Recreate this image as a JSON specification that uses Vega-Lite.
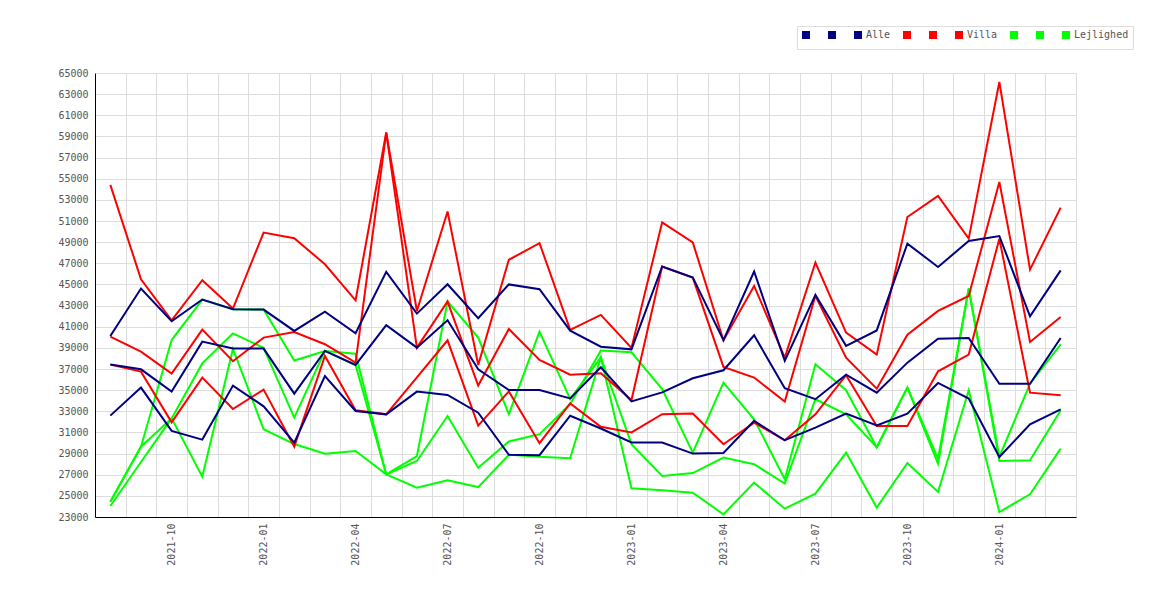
{
  "$schema": "https://vega.github.io/schema/vega-lite/v6.json",
  "width": 981,
  "height": 444,
  "autosize": {"type": "none"},
  "padding": {"left": 95, "top": 73, "right": 94, "bottom": 83},
  "background": "white",
  "data": {
    "values": [
      {"s": "Lejlighed 1", "m": "2021-08", "v": 24440}, {"s": "Lejlighed 1", "m": "2021-09", "v": 29650}, {"s": "Lejlighed 1", "m": "2021-10", "v": 39740}, {"s": "Lejlighed 1", "m": "2021-11", "v": 43570},
      {"s": "Lejlighed 1", "m": "2021-12", "v": 42650}, {"s": "Lejlighed 1", "m": "2022-01", "v": 42620}, {"s": "Lejlighed 1", "m": "2022-02", "v": 37800}, {"s": "Lejlighed 1", "m": "2022-03", "v": 38710},
      {"s": "Lejlighed 1", "m": "2022-04", "v": 38450}, {"s": "Lejlighed 1", "m": "2022-05", "v": 27030}, {"s": "Lejlighed 1", "m": "2022-06", "v": 28770}, {"s": "Lejlighed 1", "m": "2022-07", "v": 43380},
      {"s": "Lejlighed 1", "m": "2022-08", "v": 39970}, {"s": "Lejlighed 1", "m": "2022-09", "v": 32730}, {"s": "Lejlighed 1", "m": "2022-10", "v": 40540}, {"s": "Lejlighed 1", "m": "2022-11", "v": 34150},
      {"s": "Lejlighed 1", "m": "2022-12", "v": 38100}, {"s": "Lejlighed 1", "m": "2023-01", "v": 29890}, {"s": "Lejlighed 1", "m": "2023-02", "v": 26890}, {"s": "Lejlighed 1", "m": "2023-03", "v": 27160},
      {"s": "Lejlighed 1", "m": "2023-04", "v": 28620}, {"s": "Lejlighed 1", "m": "2023-05", "v": 27990}, {"s": "Lejlighed 1", "m": "2023-06", "v": 26160}, {"s": "Lejlighed 1", "m": "2023-07", "v": 34140},
      {"s": "Lejlighed 1", "m": "2023-08", "v": 32720}, {"s": "Lejlighed 1", "m": "2023-09", "v": 29600}, {"s": "Lejlighed 1", "m": "2023-10", "v": 35240}, {"s": "Lejlighed 1", "m": "2023-11", "v": 28520},
      {"s": "Lejlighed 1", "m": "2023-12", "v": 44610}, {"s": "Lejlighed 1", "m": "2024-01", "v": 28680}, {"s": "Lejlighed 1", "m": "2024-02", "v": 35610}, {"s": "Lejlighed 1", "m": "2024-03", "v": 39340},

      {"s": "Lejlighed 2", "m": "2021-08", "v": 24040}, {"s": "Lejlighed 2", "m": "2021-09", "v": 28200}, {"s": "Lejlighed 2", "m": "2021-10", "v": 32330}, {"s": "Lejlighed 2", "m": "2021-11", "v": 37530},
      {"s": "Lejlighed 2", "m": "2021-12", "v": 40370}, {"s": "Lejlighed 2", "m": "2022-01", "v": 39000}, {"s": "Lejlighed 2", "m": "2022-02", "v": 32400}, {"s": "Lejlighed 2", "m": "2022-03", "v": 38710},
      {"s": "Lejlighed 2", "m": "2022-04", "v": 37380}, {"s": "Lejlighed 2", "m": "2022-05", "v": 27030}, {"s": "Lejlighed 2", "m": "2022-06", "v": 28300}, {"s": "Lejlighed 2", "m": "2022-07", "v": 32550},
      {"s": "Lejlighed 2", "m": "2022-08", "v": 27660}, {"s": "Lejlighed 2", "m": "2022-09", "v": 30140}, {"s": "Lejlighed 2", "m": "2022-10", "v": 30840}, {"s": "Lejlighed 2", "m": "2022-11", "v": 33680},
      {"s": "Lejlighed 2", "m": "2022-12", "v": 38740}, {"s": "Lejlighed 2", "m": "2023-01", "v": 38580}, {"s": "Lejlighed 2", "m": "2023-02", "v": 35100}, {"s": "Lejlighed 2", "m": "2023-03", "v": 29090},
      {"s": "Lejlighed 2", "m": "2023-04", "v": 35710}, {"s": "Lejlighed 2", "m": "2023-05", "v": 32240}, {"s": "Lejlighed 2", "m": "2023-06", "v": 26570}, {"s": "Lejlighed 2", "m": "2023-07", "v": 37450},
      {"s": "Lejlighed 2", "m": "2023-08", "v": 34990}, {"s": "Lejlighed 2", "m": "2023-09", "v": 29600}, {"s": "Lejlighed 2", "m": "2023-10", "v": 35240}, {"s": "Lejlighed 2", "m": "2023-11", "v": 28050},
      {"s": "Lejlighed 2", "m": "2023-12", "v": 44610}, {"s": "Lejlighed 2", "m": "2024-01", "v": 28300}, {"s": "Lejlighed 2", "m": "2024-02", "v": 28360}, {"s": "Lejlighed 2", "m": "2024-03", "v": 33100},

      {"s": "Lejlighed", "m": "2021-08", "v": 24440}, {"s": "Lejlighed", "m": "2021-09", "v": 29650}, {"s": "Lejlighed", "m": "2021-10", "v": 32330}, {"s": "Lejlighed", "m": "2021-11", "v": 26810},
      {"s": "Lejlighed", "m": "2021-12", "v": 38900}, {"s": "Lejlighed", "m": "2022-01", "v": 31300}, {"s": "Lejlighed", "m": "2022-02", "v": 29900}, {"s": "Lejlighed", "m": "2022-03", "v": 28990},
      {"s": "Lejlighed", "m": "2022-04", "v": 29240}, {"s": "Lejlighed", "m": "2022-05", "v": 27030}, {"s": "Lejlighed", "m": "2022-06", "v": 25770}, {"s": "Lejlighed", "m": "2022-07", "v": 26470},
      {"s": "Lejlighed", "m": "2022-08", "v": 25830}, {"s": "Lejlighed", "m": "2022-09", "v": 28880}, {"s": "Lejlighed", "m": "2022-10", "v": 28690}, {"s": "Lejlighed", "m": "2022-11", "v": 28560},
      {"s": "Lejlighed", "m": "2022-12", "v": 38100}, {"s": "Lejlighed", "m": "2023-01", "v": 25720}, {"s": "Lejlighed", "m": "2023-02", "v": 25530}, {"s": "Lejlighed", "m": "2023-03", "v": 25300},
      {"s": "Lejlighed", "m": "2023-04", "v": 23250}, {"s": "Lejlighed", "m": "2023-05", "v": 26250}, {"s": "Lejlighed", "m": "2023-06", "v": 23790}, {"s": "Lejlighed", "m": "2023-07", "v": 25210},
      {"s": "Lejlighed", "m": "2023-08", "v": 29090}, {"s": "Lejlighed", "m": "2023-09", "v": 23900}, {"s": "Lejlighed", "m": "2023-10", "v": 28110}, {"s": "Lejlighed", "m": "2023-11", "v": 25370},
      {"s": "Lejlighed", "m": "2023-12", "v": 34990}, {"s": "Lejlighed", "m": "2024-01", "v": 23470}, {"s": "Lejlighed", "m": "2024-02", "v": 25150}, {"s": "Lejlighed", "m": "2024-03", "v": 29470},

      {"s": "Villa 1", "m": "2021-08", "v": 54420}, {"s": "Villa 1", "m": "2021-09", "v": 45490}, {"s": "Villa 1", "m": "2021-10", "v": 41610}, {"s": "Villa 1", "m": "2021-11", "v": 45400},
      {"s": "Villa 1", "m": "2021-12", "v": 42715}, {"s": "Villa 1", "m": "2022-01", "v": 49910}, {"s": "Villa 1", "m": "2022-02", "v": 49370}, {"s": "Villa 1", "m": "2022-03", "v": 46910},
      {"s": "Villa 1", "m": "2022-04", "v": 43500}, {"s": "Villa 1", "m": "2022-05", "v": 59370}, {"s": "Villa 1", "m": "2022-06", "v": 42490}, {"s": "Villa 1", "m": "2022-07", "v": 51900},
      {"s": "Villa 1", "m": "2022-08", "v": 37380}, {"s": "Villa 1", "m": "2022-09", "v": 47330}, {"s": "Villa 1", "m": "2022-10", "v": 48910}, {"s": "Villa 1", "m": "2022-11", "v": 40700},
      {"s": "Villa 1", "m": "2022-12", "v": 42120}, {"s": "Villa 1", "m": "2023-01", "v": 38990}, {"s": "Villa 1", "m": "2023-02", "v": 50860}, {"s": "Villa 1", "m": "2023-03", "v": 48970},
      {"s": "Villa 1", "m": "2023-04", "v": 39720}, {"s": "Villa 1", "m": "2023-05", "v": 44860}, {"s": "Villa 1", "m": "2023-06", "v": 38080}, {"s": "Villa 1", "m": "2023-07", "v": 47070},
      {"s": "Villa 1", "m": "2023-08", "v": 40450}, {"s": "Villa 1", "m": "2023-09", "v": 38360}, {"s": "Villa 1", "m": "2023-10", "v": 51380}, {"s": "Villa 1", "m": "2023-11", "v": 53370},
      {"s": "Villa 1", "m": "2023-12", "v": 49330}, {"s": "Villa 1", "m": "2024-01", "v": 64150}, {"s": "Villa 1", "m": "2024-02", "v": 46400}, {"s": "Villa 1", "m": "2024-03", "v": 52260},

      {"s": "Villa 2", "m": "2021-08", "v": 40065}, {"s": "Villa 2", "m": "2021-09", "v": 38645}, {"s": "Villa 2", "m": "2021-10", "v": 36560}, {"s": "Villa 2", "m": "2021-11", "v": 40727},
      {"s": "Villa 2", "m": "2021-12", "v": 37730}, {"s": "Villa 2", "m": "2022-01", "v": 39970}, {"s": "Villa 2", "m": "2022-02", "v": 40500}, {"s": "Villa 2", "m": "2022-03", "v": 39340},
      {"s": "Villa 2", "m": "2022-04", "v": 37600}, {"s": "Villa 2", "m": "2022-05", "v": 59370}, {"s": "Villa 2", "m": "2022-06", "v": 39020}, {"s": "Villa 2", "m": "2022-07", "v": 43380},
      {"s": "Villa 2", "m": "2022-08", "v": 35440}, {"s": "Villa 2", "m": "2022-09", "v": 40790}, {"s": "Villa 2", "m": "2022-10", "v": 37850}, {"s": "Villa 2", "m": "2022-11", "v": 36460},
      {"s": "Villa 2", "m": "2022-12", "v": 36590}, {"s": "Villa 2", "m": "2023-01", "v": 34060}, {"s": "Villa 2", "m": "2023-02", "v": 46700}, {"s": "Villa 2", "m": "2023-03", "v": 45650},
      {"s": "Villa 2", "m": "2023-04", "v": 37200}, {"s": "Villa 2", "m": "2023-05", "v": 36190}, {"s": "Villa 2", "m": "2023-06", "v": 33920}, {"s": "Villa 2", "m": "2023-07", "v": 43920},
      {"s": "Villa 2", "m": "2023-08", "v": 38080}, {"s": "Villa 2", "m": "2023-09", "v": 35140}, {"s": "Villa 2", "m": "2023-10", "v": 40250}, {"s": "Villa 2", "m": "2023-11", "v": 42490},
      {"s": "Villa 2", "m": "2023-12", "v": 43910}, {"s": "Villa 2", "m": "2024-01", "v": 54690}, {"s": "Villa 2", "m": "2024-02", "v": 39560}, {"s": "Villa 2", "m": "2024-03", "v": 41920},

      {"s": "Villa", "m": "2021-08", "v": 37415}, {"s": "Villa", "m": "2021-09", "v": 36750}, {"s": "Villa", "m": "2021-10", "v": 31956}, {"s": "Villa", "m": "2021-11", "v": 36180},
      {"s": "Villa", "m": "2021-12", "v": 33218}, {"s": "Villa", "m": "2022-01", "v": 35050}, {"s": "Villa", "m": "2022-02", "v": 29653}, {"s": "Villa", "m": "2022-03", "v": 38233},
      {"s": "Villa", "m": "2022-04", "v": 33100}, {"s": "Villa", "m": "2022-05", "v": 32710}, {"s": "Villa", "m": "2022-06", "v": 36210}, {"s": "Villa", "m": "2022-07", "v": 39716},
      {"s": "Villa", "m": "2022-08", "v": 31640}, {"s": "Villa", "m": "2022-09", "v": 34880}, {"s": "Villa", "m": "2022-10", "v": 29980}, {"s": "Villa", "m": "2022-11", "v": 33740},
      {"s": "Villa", "m": "2022-12", "v": 31530}, {"s": "Villa", "m": "2023-01", "v": 31000}, {"s": "Villa", "m": "2023-02", "v": 32730}, {"s": "Villa", "m": "2023-03", "v": 32780},
      {"s": "Villa", "m": "2023-04", "v": 29880}, {"s": "Villa", "m": "2023-05", "v": 31930}, {"s": "Villa", "m": "2023-06", "v": 30260}, {"s": "Villa", "m": "2023-07", "v": 32720},
      {"s": "Villa", "m": "2023-08", "v": 36410}, {"s": "Villa", "m": "2023-09", "v": 31610}, {"s": "Villa", "m": "2023-10", "v": 31610}, {"s": "Villa", "m": "2023-11", "v": 36780},
      {"s": "Villa", "m": "2023-12", "v": 38360}, {"s": "Villa", "m": "2024-01", "v": 49330}, {"s": "Villa", "m": "2024-02", "v": 34760}, {"s": "Villa", "m": "2024-03", "v": 34510},

      {"s": "Alle 1", "m": "2021-08", "v": 40120}, {"s": "Alle 1", "m": "2021-09", "v": 44610}, {"s": "Alle 1", "m": "2021-10", "v": 41520}, {"s": "Alle 1", "m": "2021-11", "v": 43570},
      {"s": "Alle 1", "m": "2021-12", "v": 42650}, {"s": "Alle 1", "m": "2022-01", "v": 42620}, {"s": "Alle 1", "m": "2022-02", "v": 40600}, {"s": "Alle 1", "m": "2022-03", "v": 42430},
      {"s": "Alle 1", "m": "2022-04", "v": 40380}, {"s": "Alle 1", "m": "2022-05", "v": 46190}, {"s": "Alle 1", "m": "2022-06", "v": 42240}, {"s": "Alle 1", "m": "2022-07", "v": 45020},
      {"s": "Alle 1", "m": "2022-08", "v": 41800}, {"s": "Alle 1", "m": "2022-09", "v": 45000}, {"s": "Alle 1", "m": "2022-10", "v": 44550}, {"s": "Alle 1", "m": "2022-11", "v": 40630},
      {"s": "Alle 1", "m": "2022-12", "v": 39110}, {"s": "Alle 1", "m": "2023-01", "v": 38860}, {"s": "Alle 1", "m": "2023-02", "v": 46700}, {"s": "Alle 1", "m": "2023-03", "v": 45650},
      {"s": "Alle 1", "m": "2023-04", "v": 39720}, {"s": "Alle 1", "m": "2023-05", "v": 46220}, {"s": "Alle 1", "m": "2023-06", "v": 37770}, {"s": "Alle 1", "m": "2023-07", "v": 44010},
      {"s": "Alle 1", "m": "2023-08", "v": 39190}, {"s": "Alle 1", "m": "2023-09", "v": 40650}, {"s": "Alle 1", "m": "2023-10", "v": 48860}, {"s": "Alle 1", "m": "2023-11", "v": 46650},
      {"s": "Alle 1", "m": "2023-12", "v": 49110}, {"s": "Alle 1", "m": "2024-01", "v": 49580}, {"s": "Alle 1", "m": "2024-02", "v": 41980}, {"s": "Alle 1", "m": "2024-03", "v": 46330},

      {"s": "Alle 2", "m": "2021-08", "v": 37420}, {"s": "Alle 2", "m": "2021-09", "v": 36970}, {"s": "Alle 2", "m": "2021-10", "v": 34860}, {"s": "Alle 2", "m": "2021-11", "v": 39590},
      {"s": "Alle 2", "m": "2021-12", "v": 38930}, {"s": "Alle 2", "m": "2022-01", "v": 38930}, {"s": "Alle 2", "m": "2022-02", "v": 34670}, {"s": "Alle 2", "m": "2022-03", "v": 38710},
      {"s": "Alle 2", "m": "2022-04", "v": 37380}, {"s": "Alle 2", "m": "2022-05", "v": 41140}, {"s": "Alle 2", "m": "2022-06", "v": 39020}, {"s": "Alle 2", "m": "2022-07", "v": 41610},
      {"s": "Alle 2", "m": "2022-08", "v": 36970}, {"s": "Alle 2", "m": "2022-09", "v": 35010}, {"s": "Alle 2", "m": "2022-10", "v": 35010}, {"s": "Alle 2", "m": "2022-11", "v": 34220},
      {"s": "Alle 2", "m": "2022-12", "v": 37160}, {"s": "Alle 2", "m": "2023-01", "v": 33930}, {"s": "Alle 2", "m": "2023-02", "v": 34790}, {"s": "Alle 2", "m": "2023-03", "v": 36120},
      {"s": "Alle 2", "m": "2023-04", "v": 36880}, {"s": "Alle 2", "m": "2023-05", "v": 40190}, {"s": "Alle 2", "m": "2023-06", "v": 35180}, {"s": "Alle 2", "m": "2023-07", "v": 34140},
      {"s": "Alle 2", "m": "2023-08", "v": 36470}, {"s": "Alle 2", "m": "2023-09", "v": 34760}, {"s": "Alle 2", "m": "2023-10", "v": 37600}, {"s": "Alle 2", "m": "2023-11", "v": 39870},
      {"s": "Alle 2", "m": "2023-12", "v": 39930}, {"s": "Alle 2", "m": "2024-01", "v": 35610}, {"s": "Alle 2", "m": "2024-02", "v": 35610}, {"s": "Alle 2", "m": "2024-03", "v": 39930},

      {"s": "Alle", "m": "2021-08", "v": 32590}, {"s": "Alle", "m": "2021-09", "v": 35240}, {"s": "Alle", "m": "2021-10", "v": 31140}, {"s": "Alle", "m": "2021-11", "v": 30320},
      {"s": "Alle", "m": "2021-12", "v": 35430}, {"s": "Alle", "m": "2022-01", "v": 33470}, {"s": "Alle", "m": "2022-02", "v": 30030}, {"s": "Alle", "m": "2022-03", "v": 36340},
      {"s": "Alle", "m": "2022-04", "v": 33030}, {"s": "Alle", "m": "2022-05", "v": 32710}, {"s": "Alle", "m": "2022-06", "v": 34860}, {"s": "Alle", "m": "2022-07", "v": 34540},
      {"s": "Alle", "m": "2022-08", "v": 32870}, {"s": "Alle", "m": "2022-09", "v": 28880}, {"s": "Alle", "m": "2022-10", "v": 28850}, {"s": "Alle", "m": "2022-11", "v": 32580},
      {"s": "Alle", "m": "2022-12", "v": 31370}, {"s": "Alle", "m": "2023-01", "v": 30050}, {"s": "Alle", "m": "2023-02", "v": 30050}, {"s": "Alle", "m": "2023-03", "v": 29000},
      {"s": "Alle", "m": "2023-04", "v": 29060}, {"s": "Alle", "m": "2023-05", "v": 32090}, {"s": "Alle", "m": "2023-06", "v": 30260}, {"s": "Alle", "m": "2023-07", "v": 31460},
      {"s": "Alle", "m": "2023-08", "v": 32780}, {"s": "Alle", "m": "2023-09", "v": 31670}, {"s": "Alle", "m": "2023-10", "v": 32780}, {"s": "Alle", "m": "2023-11", "v": 35680},
      {"s": "Alle", "m": "2023-12", "v": 34200}, {"s": "Alle", "m": "2024-01", "v": 28680}, {"s": "Alle", "m": "2024-02", "v": 31770}, {"s": "Alle", "m": "2024-03", "v": 33190}
    ]
  },
  "mark": {"type": "line", "strokeWidth": 2},
  "encoding": {
    "x": {
      "field": "m",
      "type": "ordinal",
      "scale": {"type": "band", "paddingInner": 0, "paddingOuter": 0},
      "axis": {
        "title": null,
        "tickBand": "extent",
        "tickSize": 0,
        "grid": true,
        "labelAngle": -90,
        "labelPadding": 6,
        "labelExpr": "indexof(['01','04','07','10'], slice(datum.label + '', 5)) >= 0 ? datum.label : ''"
      }
    },
    "y": {
      "field": "v",
      "type": "quantitative",
      "scale": {"domain": [23000, 65000], "nice": false, "zero": false},
      "axis": {
        "title": null,
        "values": [23000, 25000, 27000, 29000, 31000, 33000, 35000, 37000, 39000, 41000, 43000, 45000, 47000, 49000, 51000, 53000, 55000, 57000, 59000, 61000, 63000, 65000],
        "format": "d",
        "tickSize": 0,
        "labelPadding": 7
      }
    },
    "color": {
      "field": "s",
      "type": "nominal",
      "scale": {
        "domain": ["Alle 1", "Alle 2", "Alle", "Villa 1", "Villa 2", "Villa", "Lejlighed 1", "Lejlighed 2", "Lejlighed"],
        "range": ["#000080", "#000080", "#000080", "#ff0000", "#ff0000", "#ff0000", "#00ff00", "#00ff00", "#00ff00"]
      },
      "legend": {
        "title": null,
        "orient": "none",
        "legendX": 702,
        "legendY": -47,
        "direction": "horizontal",
        "symbolType": "square",
        "symbolSize": 16,
        "symbolStrokeWidth": 4,
        "labelOffset": 3,
        "columnPadding": 6,
        "padding": 4,
        "strokeColor": "#dddddd",
        "fillColor": "white",
        "labelFont": "DejaVu Sans Mono",
        "labelFontSize": 10,
        "labelColor": "#555555",
        "labelExpr": "indexof(['Alle', 'Villa', 'Lejlighed'], datum.label) >= 0 ? datum.label : ' '"
      }
    }
  },
  "config": {
    "view": {"stroke": null},
    "axis": {
      "labelFont": "DejaVu Sans Mono",
      "labelFontSize": 10,
      "labelColor": "#555555",
      "gridColor": "#dddddd",
      "gridWidth": 1,
      "domainColor": "#000000",
      "domainWidth": 1
    }
  }
}
